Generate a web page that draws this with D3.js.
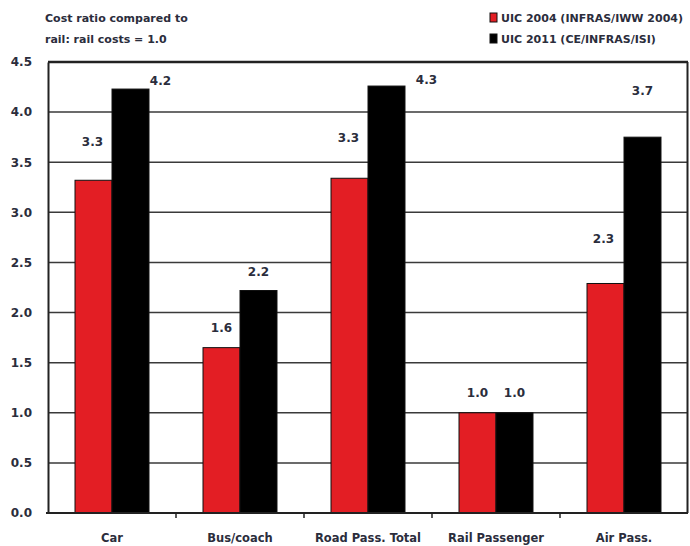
<!DOCTYPE html>
<html>
<head>
<meta charset="utf-8">
<script src="https://cdn.jsdelivr.net/npm/d3@7"></script>
<style>
  body { margin: 0; background: #fff; }
  text { font-family: "DejaVu Sans", Verdana, sans-serif; fill: #2b2d3c; }
</style>
</head>
<body>
<div id="root"></div>
<script>
// chart data
const categories = ['Car', 'Bus/coach', 'Road Pass. Total', 'Rail Passenger', 'Air Pass.'];
const seriesNames = ['UIC 2004 (INFRAS/IWW 2004)', 'UIC 2011 (CE/INFRAS/ISI)'];
const uic2004 = [3.32, 1.65, 3.34, 1.0, 2.29];
const uic2011 = [4.23, 2.22, 4.26, 1.0, 3.75];
const labels2004 = ['3.3', '1.6', '3.3', '1.0', '2.3'];
const labels2011 = ['4.2', '2.2', '4.3', '1.0', '3.7'];
const yTicks = [0, 0.5, 1, 1.5, 2, 2.5, 3, 3.5, 4, 4.5];

// label nudges (layout only) [dx, dy] from bar top centre
const nudge2004 = [[-1, -38], [0, -20], [-1, -40], [0, -20], [-2, -45]];
const nudge2011 = [[30, -8], [0, -19], [40, -6], [0, -20], [0, -46]];

let width = 690, height = 546;
let margin = {top: 62, right: 2, bottom: 33, left: 48};
const colors = ['#e31e24', '#000000'];

var svg = d3.select('#root').append('svg')
  .attr('width', width).attr('height', height);

var x0 = d3.scaleBand()
  .domain(categories)
  .range([margin.left, width - margin.right])
  .padding(0);

var x1 = d3.scaleBand()
  .domain(seriesNames)
  .range([0, x0.bandwidth()])
  .paddingInner(0)
  .paddingOuter(0.73);

var y = d3.scaleLinear()
  .domain([0, 4.5])
  .range([height - margin.bottom, margin.top]);

// gridlines
svg.append('g')
  .selectAll('line')
  .data(yTicks.slice(1))
  .enter().append('line')
  .attr('x1', margin.left).attr('x2', width - margin.right)
  .attr('y1', d => y(d)).attr('y2', d => y(d))
  .attr('stroke', '#3a3a3a').attr('stroke-width', 1.5);

// frame top/right
svg.append('line')
  .attr('x1', margin.left).attr('x2', width - margin.right)
  .attr('y1', y(4.5)).attr('y2', y(4.5))
  .attr('stroke', '#222').attr('stroke-width', 2.5);
svg.append('line')
  .attr('x1', width - margin.right - 0.5).attr('x2', width - margin.right - 0.5)
  .attr('y1', y(4.5)).attr('y2', y(0))
  .attr('stroke', '#222').attr('stroke-width', 2);

// y axis
var yAxis = d3.axisLeft(y)
  .tickValues(yTicks)
  .tickFormat(d3.format('.1f'))
  .tickSize(0)
  .tickPadding(16);
var yg = svg.append('g')
  .attr('transform', 'translate(' + [margin.left, 0] + ')')
  .call(yAxis);
yg.select('.domain').attr('stroke', '#222').attr('stroke-width', 2);
yg.selectAll('text')
  .style('font-size', '12px').style('font-weight', 'bold')
  .style('fill', '#2b2d3c');

// bars
var rows = categories.map((c, i) => ({cat: c, vals: [uic2004[i], uic2011[i]], i: i}));
var group = svg.append('g').selectAll('g')
  .data(rows).enter().append('g')
  .attr('transform', d => 'translate(' + [x0(d.cat), 0] + ')');

group.selectAll('rect')
  .data(d => d.vals.map((v, k) => ({k: k, v: v})))
  .enter().append('rect')
  .attr('x', d => x1(seriesNames[d.k]))
  .attr('y', d => y(d.v))
  .attr('width', x1.bandwidth())
  .attr('height', d => y(0) - y(d.v))
  .attr('fill', d => colors[d.k])
  .attr('stroke', '#111')
  .attr('stroke-width', 1);

// value labels
rows.forEach(r => {
  [[uic2004, labels2004, nudge2004], [uic2011, labels2011, nudge2011]].forEach((s, k) => {
    var cx = x0(r.cat) + x1(seriesNames[k]) + x1.bandwidth() / 2;
    svg.append('text')
      .attr('x', cx + s[2][r.i][0])
      .attr('y', y(s[0][r.i]) + s[2][r.i][1])
      .attr('dy', '0.35em')
      .attr('text-anchor', 'middle')
      .style('font-size', '12px').style('font-weight', 'bold')
      .text(s[1][r.i]);
  });
});

// x axis
var xg = svg.append('g')
  .attr('transform', 'translate(' + [0, y(0)] + ')');
xg.append('line')
  .attr('x1', margin.left - 2).attr('x2', width - margin.right)
  .attr('stroke', '#222').attr('stroke-width', 2);
xg.selectAll('.tk')
  .data(categories.slice(1))
  .enter().append('line')
  .attr('x1', d => x0(d)).attr('x2', d => x0(d))
  .attr('y1', 0).attr('y2', 5)
  .attr('stroke', '#222').attr('stroke-width', 1.5);
xg.selectAll('.cl')
  .data(categories)
  .enter().append('text')
  .attr('x', d => x0(d) + x0.bandwidth() / 2)
  .attr('y', 29)
  .attr('text-anchor', 'middle')
  .style('font-size', '11.5px').style('font-weight', 'bold')
  .text(d => d);

// y title
svg.append('text').attr('x', 45).attr('y', 22)
  .style('font-size', '11px').style('font-weight', 'bold')
  .text('Cost ratio compared to');
svg.append('text').attr('x', 45).attr('y', 43)
  .style('font-size', '11px').style('font-weight', 'bold')
  .text('rail: rail costs = 1.0');

// legend
var legend = svg.append('g').selectAll('g')
  .data(seriesNames).enter().append('g')
  .attr('transform', (d, i) => 'translate(' + [490, 13 + i * 21] + ')');
legend.append('rect')
  .attr('width', 7).attr('height', 9)
  .attr('fill', (d, i) => colors[i])
  .attr('stroke', '#111').attr('stroke-width', 1);
legend.append('text')
  .attr('x', 11).attr('y', 9)
  .style('font-size', '11px').style('font-weight', 'bold')
  .text(d => d);
</script>
</body>
</html>
